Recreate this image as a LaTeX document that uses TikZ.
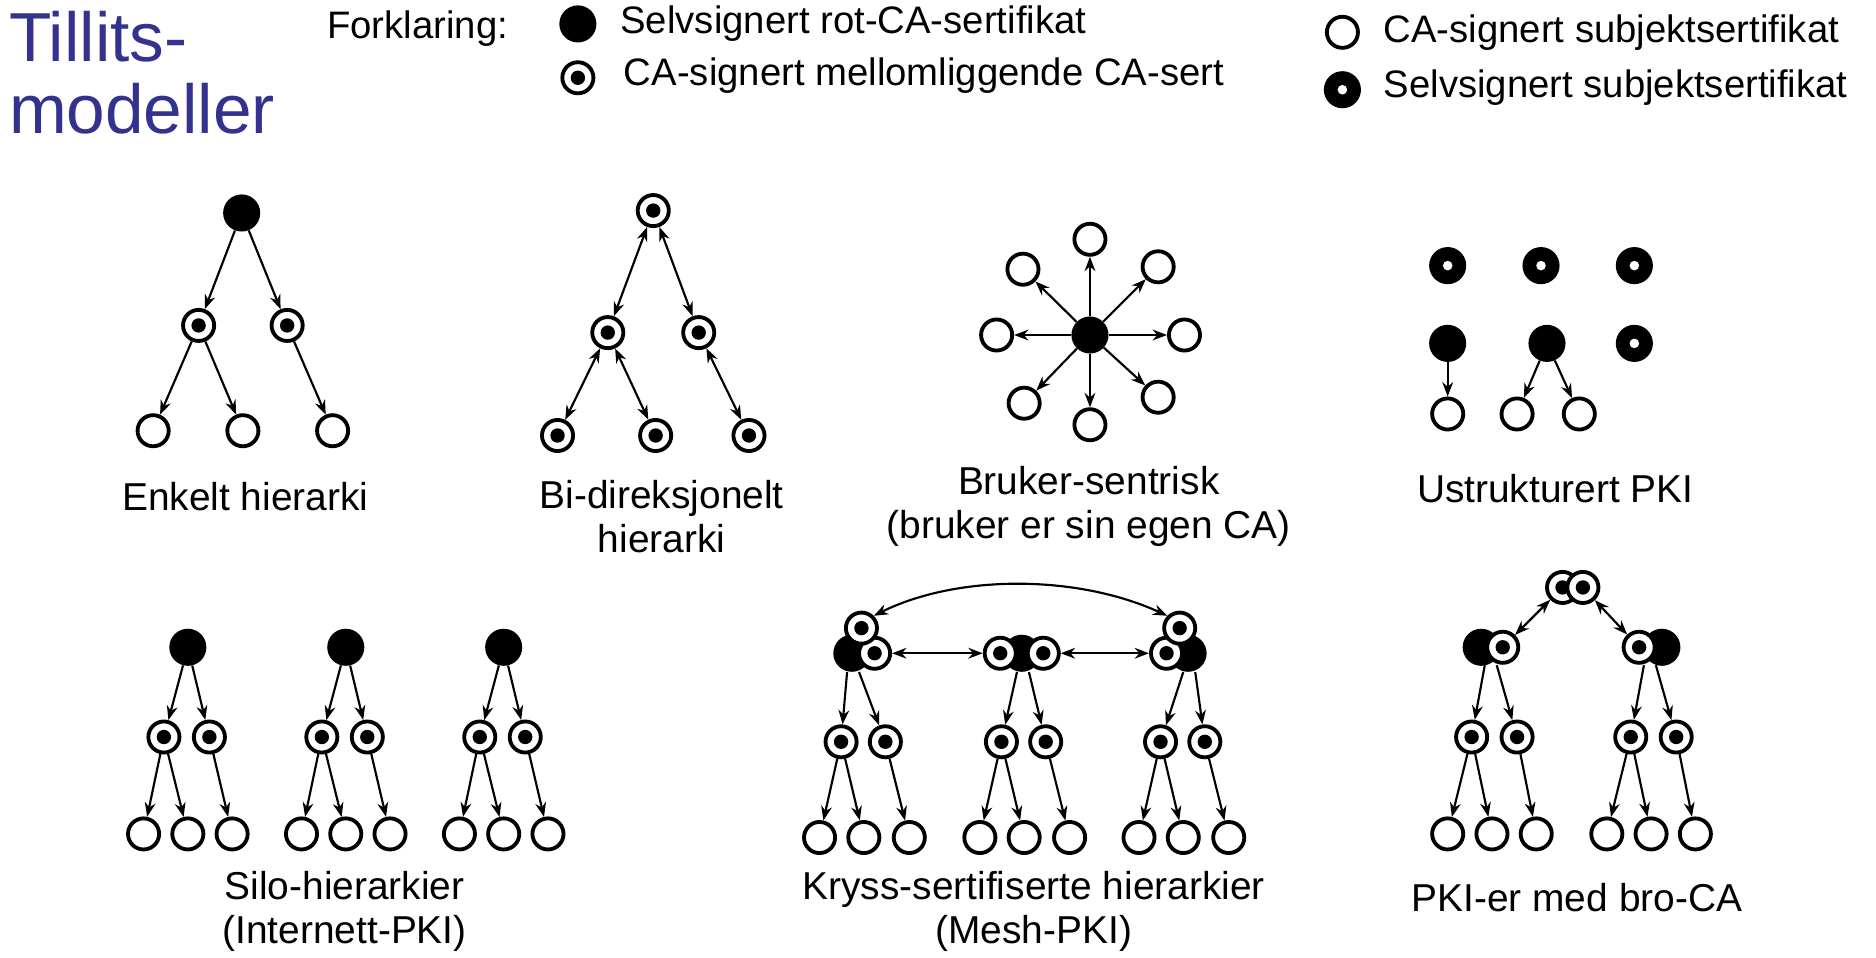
\documentclass[tikz,border=0pt]{standalone}
\usepackage{fontspec}
\setmainfont{Liberation Sans}
\usetikzlibrary{arrows.meta}
\definecolor{titleblue}{HTML}{33338F}
\begin{document}
\begin{tikzpicture}[x=1pt,y=-1pt,
  subj/.style={circle,draw,line width=3.2pt,fill=white,minimum size=26pt,inner sep=0pt},
  inter/.style={circle,draw,line width=3.2pt,fill=white,minimum size=26pt,inner sep=0pt,
     path picture={\fill[black] (path picture bounding box.center) circle (6pt);}},
  root/.style={circle,fill=black,minimum size=31pt,inner sep=0pt},
  selfs/.style={circle,fill=black,minimum size=31pt,inner sep=0pt,
     path picture={\fill[white] (path picture bounding box.center) circle (4pt);}},
  arr/.style={line width=1.8pt,-{Stealth[length=12pt,width=9pt]}},
  barr/.style={line width=1.8pt,{Stealth[length=12pt,width=9pt]}-{Stealth[length=12pt,width=9pt]}},
  lbl/.style={font=\fontsize{32.5}{37}\selectfont,align=center},
  leg/.style={font=\fontsize{32}{36}\selectfont,anchor=west}]
\useasboundingbox (0,0) rectangle (1568,800);
% title and legend
\node[anchor=north west,align=left,text=titleblue,font=\fontsize{58}{60}\selectfont] (title) at (4,6) {Tillits-\\modeller};
\node[leg] (fk) at (270,24) {Forklaring:};
\node[root] (l1) at (483,20) {}; \node[leg] (t1) at (515,20) {Selvsignert rot-CA-sertifikat};
\node[inter] (l2) at (483,65) {}; \node[leg] (t2) at (518,63) {CA-signert mellomliggende CA-sert};
\node[subj] (l3) at (1122,27) {}; \node[leg] (t3) at (1153,27) {CA-signert subjektsertifikat};
\node[selfs] (l4) at (1122,75) {}; \node[leg] (t4) at (1153,73) {Selvsignert subjektsertifikat};
% Enkelt hierarki
\node[root] (a0) at (202,178) {};
\node[inter] (a1) at (166,272) {}; \node[inter] (a2) at (240,272) {};
\node[subj] (a3) at (128,360) {}; \node[subj] (a4) at (203,360) {}; \node[subj] (a5) at (278,360) {};
\draw[arr] (a0)--(a1); \draw[arr] (a0)--(a2);
\draw[arr] (a1)--(a3); \draw[arr] (a1)--(a4); \draw[arr] (a2)--(a5);
\node[lbl] (la) at (205,415) {Enkelt hierarki};
% Bi-direksjonelt
\node[inter] (b0) at (546,176) {};
\node[inter] (b1) at (508,278) {}; \node[inter] (b2) at (584,278) {};
\node[inter] (b3) at (466,364) {}; \node[inter] (b4) at (548,364) {}; \node[inter] (b5) at (626,364) {};
\draw[barr] (b0)--(b1); \draw[barr] (b0)--(b2);
\draw[barr] (b1)--(b3); \draw[barr] (b1)--(b4); \draw[barr] (b2)--(b5);
\node[lbl] (lb) at (553,432) {Bi-direksjonelt\\hierarki};
% Bruker-sentrisk
\node[root] (c0) at (911,280) {};
\foreach \n/\x/\y in {1/911/200,2/911/355,3/833/280,4/990/280,5/855/225,6/968/223,7/856/337,8/968/332}{
  \node[subj] (c\n) at (\x,\y) {}; \draw[arr] (c0)--(c\n);}
\node[lbl] (lc) at (910,423) {Bruker-sentrisk\\(bruker er sin egen CA)};
% Ustrukturert
\node[selfs] (d1) at (1210,222) {}; \node[selfs] (d2) at (1288,222) {};
\node[selfs] (d3) at (1366,222) {}; \node[selfs] (d4) at (1366,287) {};
\node[root] (d5) at (1210,287) {}; \node[subj] (d6) at (1210,346) {};
\node[root] (d7) at (1293,287) {}; \node[subj] (d8) at (1268,346) {}; \node[subj] (d9) at (1320,346) {};
\draw[arr] (d5)--(d6); \draw[arr] (d7)--(d8); \draw[arr] (d7)--(d9);
\node[lbl] (ld) at (1300,408) {Ustrukturert PKI};
% Silo
\foreach \t/\o in {1/0,2/132,3/264}{
  \node[root] (s\t r) at (157+\o,541) {};
  \node[inter] (s\t a) at (137+\o,616) {}; \node[inter] (s\t b) at (175+\o,616) {};
  \node[subj] (s\t x) at (120+\o,697) {}; \node[subj] (s\t y) at (157+\o,697) {}; \node[subj] (s\t z) at (194+\o,697) {};
  \draw[arr] (s\t r)--(s\t a); \draw[arr] (s\t r)--(s\t b);
  \draw[arr] (s\t a)--(s\t x); \draw[arr] (s\t a)--(s\t y); \draw[arr] (s\t b)--(s\t z);}
\node[lbl] (ls) at (288,762) {Silo-hierarkier\\(Internett-PKI)};
% Kryss-sertifiserte
\node[root] (k1r) at (712,546) {}; \node[inter] (k1i) at (731,546) {}; \node[inter] (k1t) at (720,525) {};
\node[root] (k2r) at (854,546) {}; \node[inter] (k2i) at (836,546) {}; \node[inter] (k2j) at (872,546) {};
\node[root] (k3r) at (993,546) {}; \node[inter] (k3i) at (975,546) {}; \node[inter] (k3t) at (986,525) {};
\draw[barr] (k1i)--(k2i); \draw[barr] (k2j)--(k3i);
\draw[barr] (k1t.north east) .. controls (800,480) and (900,480) .. (k3t.north west);
\foreach \t/\x/\s in {1/720/k1r,2/854/k2r,3/987/k3r}{
  \node[inter] (k\t a) at (\x-17,620) {}; \node[inter] (k\t b) at (\x+20,620) {};
  \node[subj] (k\t x) at (\x-35,700) {}; \node[subj] (k\t y) at (\x+2,700) {}; \node[subj] (k\t z) at (\x+40,700) {};
  \draw[arr] ([xshift=-4pt]\s.south)--(k\t a); \draw[arr] ([xshift=6pt]\s.south)--(k\t b);
  \draw[arr] (k\t a)--(k\t x); \draw[arr] (k\t a)--(k\t y); \draw[arr] (k\t b)--(k\t z);}
\node[lbl] (lk) at (864,762) {Kryss-sertifiserte hierarkier\\(Mesh-PKI)};
% Bro-CA
\node[inter] (p1) at (1306,491) {}; \node[inter] (p2) at (1323,491) {};
\node[root] (pl) at (1238,541) {}; \node[inter] (pli) at (1256,541) {};
\node[root] (pr) at (1389,541) {}; \node[inter] (pri) at (1370,541) {};
\draw[barr] (p1)--(pli); \draw[barr] (p2)--(pri);
\foreach \t/\x/\s in {1/1247/pl,2/1380/pr}{
  \node[inter] (q\t a) at (\x-17,616) {}; \node[inter] (q\t b) at (\x+21,616) {};
  \node[subj] (q\t x) at (\x-37,697) {}; \node[subj] (q\t y) at (\x,697) {}; \node[subj] (q\t z) at (\x+37,697) {};
  \draw[arr] ([xshift=-6pt]\x,556)--(q\t a); \draw[arr] ([xshift=4pt]\x,556)--(q\t b);
  \draw[arr] (q\t a)--(q\t x); \draw[arr] (q\t a)--(q\t y); \draw[arr] (q\t b)--(q\t z);}
\node[lbl] (lp) at (1318,750) {PKI-er med bro-CA};
\end{tikzpicture}
\end{document}
